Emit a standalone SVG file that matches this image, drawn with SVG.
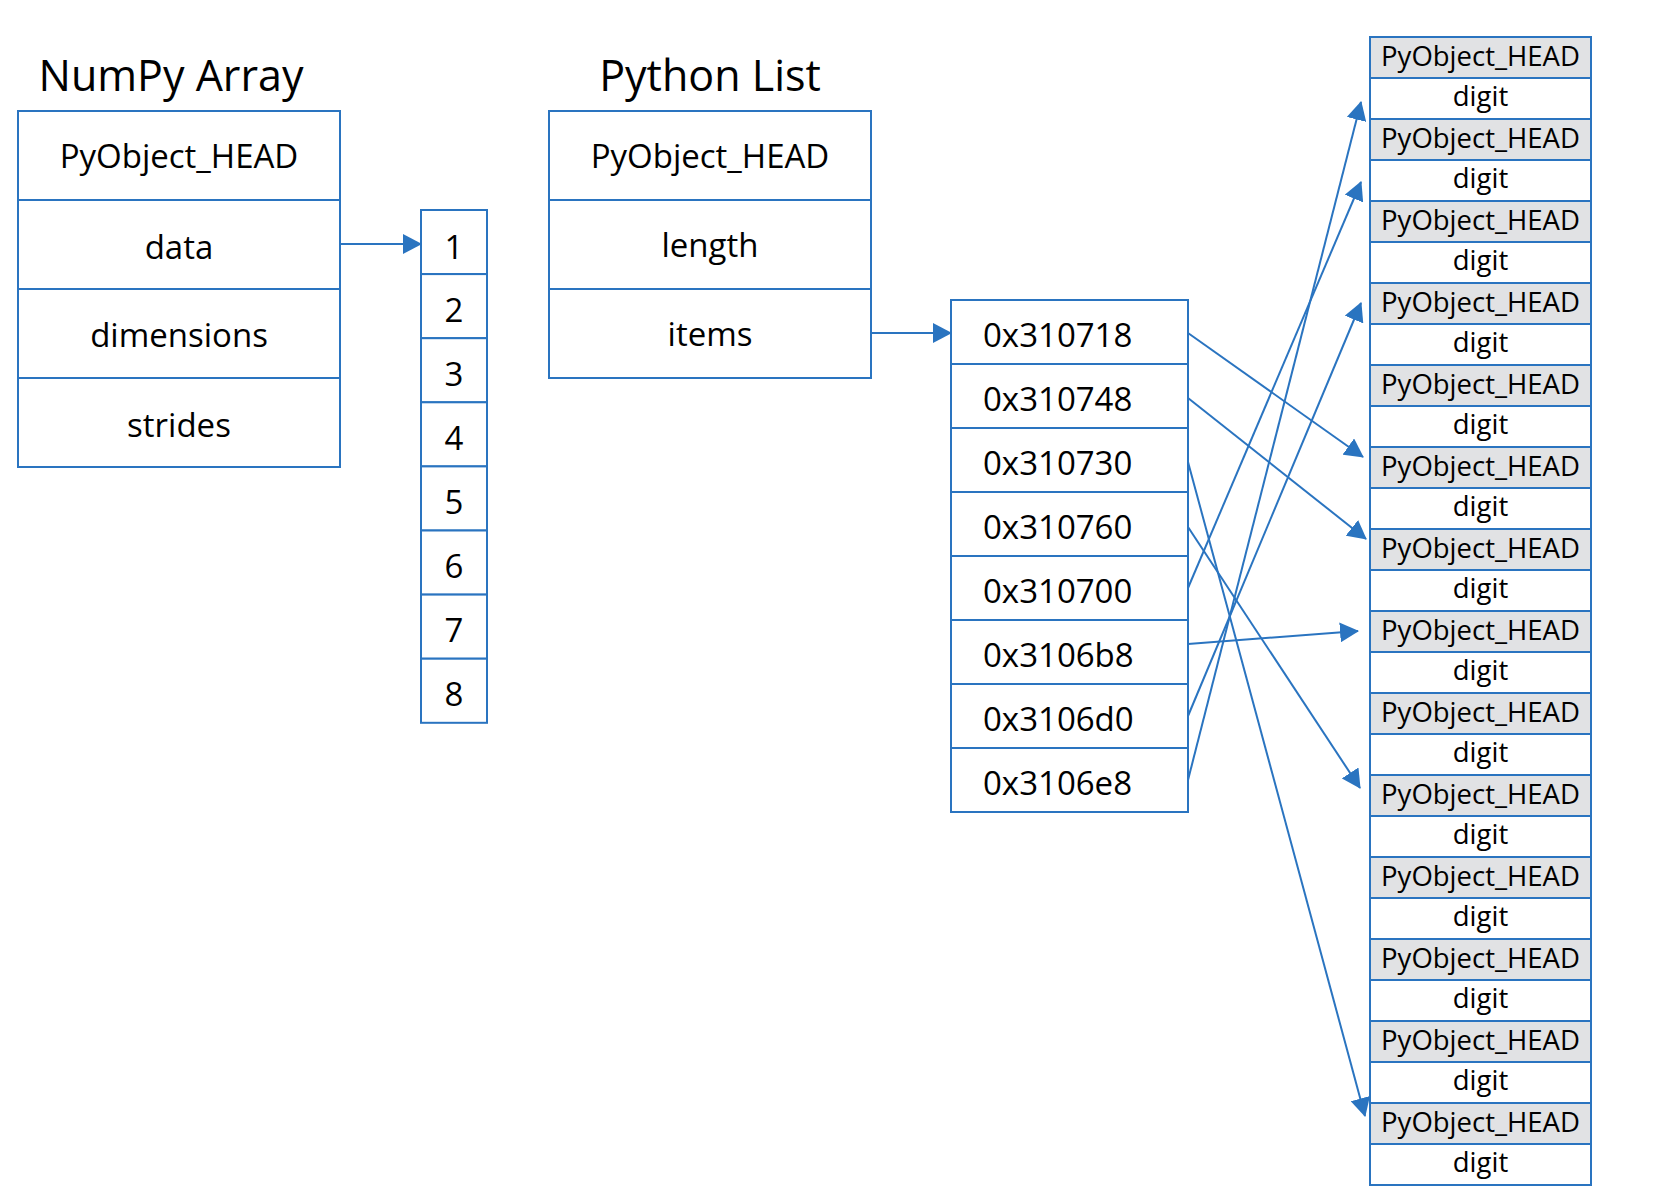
<svg xmlns="http://www.w3.org/2000/svg" width="1660" height="1196" viewBox="0 0 1660 1196">
<style>
  .box{fill:#ffffff;stroke:#2a74c0;stroke-width:2}
  .head{fill:#e1e2e4;stroke:#2a74c0;stroke-width:2}
  .t{font-family:"Open Sans","Noto Sans","DejaVu Sans",sans-serif;fill:#000000}
  .title{font-size:43px;text-anchor:middle}
  .f33{font-size:33px}
  .f27{font-size:27.5px;text-anchor:middle}
  .mid{text-anchor:middle}
  .c{stroke:#2a74c0;stroke-width:2;fill:none;marker-end:url(#ah)}
</style>
<defs>
  <marker id="ah" markerUnits="userSpaceOnUse" markerWidth="19" markerHeight="20" viewBox="0 0 19 20" refX="18" refY="10" orient="auto">
    <path d="M0,0L19,10L0,20z" fill="#2a74c0"/>
  </marker>
</defs>
<rect x="0" y="0" width="1660" height="1196" fill="#ffffff"/>

<g id="numpy-array">
  <text class="t title" x="171" y="91">NumPy Array</text>
  <rect class="box" x="18" y="111" width="322" height="89"/>
  <rect class="box" x="18" y="200" width="322" height="89"/>
  <rect class="box" x="18" y="289" width="322" height="89"/>
  <rect class="box" x="18" y="378" width="322" height="89"/>
  <text class="t f33 mid" x="179" y="168">PyObject_HEAD</text>
  <text class="t f33 mid" x="179" y="259">data</text>
  <text class="t f33 mid" x="179" y="347">dimensions</text>
  <text class="t f33 mid" x="179" y="437">strides</text>
</g>

<g id="data-buffer">
  <rect class="box" x="421" y="210" width="66" height="64.1"/>
  <rect class="box" x="421" y="274.1" width="66" height="64.1"/>
  <rect class="box" x="421" y="338.2" width="66" height="64.1"/>
  <rect class="box" x="421" y="402.3" width="66" height="64.1"/>
  <rect class="box" x="421" y="466.4" width="66" height="64.1"/>
  <rect class="box" x="421" y="530.5" width="66" height="64.1"/>
  <rect class="box" x="421" y="594.6" width="66" height="64.1"/>
  <rect class="box" x="421" y="658.7" width="66" height="64.1"/>
  <text class="t f33 mid" x="454" y="259">1</text>
  <text class="t f33 mid" x="454" y="322">2</text>
  <text class="t f33 mid" x="454" y="386">3</text>
  <text class="t f33 mid" x="454" y="450">4</text>
  <text class="t f33 mid" x="454" y="514">5</text>
  <text class="t f33 mid" x="454" y="578">6</text>
  <text class="t f33 mid" x="454" y="642">7</text>
  <text class="t f33 mid" x="454" y="706">8</text>
</g>

<g id="python-list">
  <text class="t title" x="710" y="91">Python List</text>
  <rect class="box" x="549" y="111" width="322" height="89"/>
  <rect class="box" x="549" y="200" width="322" height="89"/>
  <rect class="box" x="549" y="289" width="322" height="89"/>
  <text class="t f33 mid" x="710" y="168">PyObject_HEAD</text>
  <text class="t f33 mid" x="710" y="257">length</text>
  <text class="t f33 mid" x="710" y="346">items</text>
</g>

<g id="item-pointers">
  <rect class="box" x="951" y="300" width="237" height="64"/>
  <rect class="box" x="951" y="364" width="237" height="64"/>
  <rect class="box" x="951" y="428" width="237" height="64"/>
  <rect class="box" x="951" y="492" width="237" height="64"/>
  <rect class="box" x="951" y="556" width="237" height="64"/>
  <rect class="box" x="951" y="620" width="237" height="64"/>
  <rect class="box" x="951" y="684" width="237" height="64"/>
  <rect class="box" x="951" y="748" width="237" height="64"/>
  <text class="t f33" x="983" y="347">0x310718</text>
  <text class="t f33" x="983" y="411">0x310748</text>
  <text class="t f33" x="983" y="475">0x310730</text>
  <text class="t f33" x="983" y="539">0x310760</text>
  <text class="t f33" x="983" y="603">0x310700</text>
  <text class="t f33" x="983" y="667">0x3106b8</text>
  <text class="t f33" x="983" y="731">0x3106d0</text>
  <text class="t f33" x="983" y="795">0x3106e8</text>
</g>

<g id="pyobj-0"><rect class="head" x="1370" y="37" width="221" height="41"/><rect class="box" x="1370" y="78" width="221" height="41"/><text class="t f27" x="1480.5" y="66">PyObject_HEAD</text><text class="t f27" x="1480.5" y="106">digit</text></g>
<g id="pyobj-1"><rect class="head" x="1370" y="119" width="221" height="41"/><rect class="box" x="1370" y="160" width="221" height="41"/><text class="t f27" x="1480.5" y="148">PyObject_HEAD</text><text class="t f27" x="1480.5" y="188">digit</text></g>
<g id="pyobj-2"><rect class="head" x="1370" y="201" width="221" height="41"/><rect class="box" x="1370" y="242" width="221" height="41"/><text class="t f27" x="1480.5" y="230">PyObject_HEAD</text><text class="t f27" x="1480.5" y="270">digit</text></g>
<g id="pyobj-3"><rect class="head" x="1370" y="283" width="221" height="41"/><rect class="box" x="1370" y="324" width="221" height="41"/><text class="t f27" x="1480.5" y="312">PyObject_HEAD</text><text class="t f27" x="1480.5" y="352">digit</text></g>
<g id="pyobj-4"><rect class="head" x="1370" y="365" width="221" height="41"/><rect class="box" x="1370" y="406" width="221" height="41"/><text class="t f27" x="1480.5" y="394">PyObject_HEAD</text><text class="t f27" x="1480.5" y="434">digit</text></g>
<g id="pyobj-5"><rect class="head" x="1370" y="447" width="221" height="41"/><rect class="box" x="1370" y="488" width="221" height="41"/><text class="t f27" x="1480.5" y="476">PyObject_HEAD</text><text class="t f27" x="1480.5" y="516">digit</text></g>
<g id="pyobj-6"><rect class="head" x="1370" y="529" width="221" height="41"/><rect class="box" x="1370" y="570" width="221" height="41"/><text class="t f27" x="1480.5" y="558">PyObject_HEAD</text><text class="t f27" x="1480.5" y="598">digit</text></g>
<g id="pyobj-7"><rect class="head" x="1370" y="611" width="221" height="41"/><rect class="box" x="1370" y="652" width="221" height="41"/><text class="t f27" x="1480.5" y="640">PyObject_HEAD</text><text class="t f27" x="1480.5" y="680">digit</text></g>
<g id="pyobj-8"><rect class="head" x="1370" y="693" width="221" height="41"/><rect class="box" x="1370" y="734" width="221" height="41"/><text class="t f27" x="1480.5" y="722">PyObject_HEAD</text><text class="t f27" x="1480.5" y="762">digit</text></g>
<g id="pyobj-9"><rect class="head" x="1370" y="775" width="221" height="41"/><rect class="box" x="1370" y="816" width="221" height="41"/><text class="t f27" x="1480.5" y="804">PyObject_HEAD</text><text class="t f27" x="1480.5" y="844">digit</text></g>
<g id="pyobj-10"><rect class="head" x="1370" y="857" width="221" height="41"/><rect class="box" x="1370" y="898" width="221" height="41"/><text class="t f27" x="1480.5" y="886">PyObject_HEAD</text><text class="t f27" x="1480.5" y="926">digit</text></g>
<g id="pyobj-11"><rect class="head" x="1370" y="939" width="221" height="41"/><rect class="box" x="1370" y="980" width="221" height="41"/><text class="t f27" x="1480.5" y="968">PyObject_HEAD</text><text class="t f27" x="1480.5" y="1008">digit</text></g>
<g id="pyobj-12"><rect class="head" x="1370" y="1021" width="221" height="41"/><rect class="box" x="1370" y="1062" width="221" height="41"/><text class="t f27" x="1480.5" y="1050">PyObject_HEAD</text><text class="t f27" x="1480.5" y="1090">digit</text></g>
<g id="pyobj-13"><rect class="head" x="1370" y="1103" width="221" height="41"/><rect class="box" x="1370" y="1144" width="221" height="41"/><text class="t f27" x="1480.5" y="1132">PyObject_HEAD</text><text class="t f27" x="1480.5" y="1172">digit</text></g>

<g id="connectors">
  <line class="c" x1="340" y1="244" x2="421" y2="244"/>
  <line class="c" x1="871" y1="333" x2="951" y2="333"/>
  <line class="c" x1="1188" y1="333" x2="1363" y2="457"/>
  <line class="c" x1="1188" y1="398" x2="1366" y2="539"/>
  <line class="c" x1="1188" y1="462" x2="1365" y2="1116"/>
  <line class="c" x1="1188" y1="527" x2="1360" y2="788"/>
  <line class="c" x1="1188" y1="588" x2="1361" y2="182"/>
  <line class="c" x1="1188" y1="644" x2="1358" y2="631"/>
  <line class="c" x1="1188" y1="716" x2="1361" y2="303"/>
  <line class="c" x1="1188" y1="780" x2="1361" y2="102"/>
</g>
</svg>
